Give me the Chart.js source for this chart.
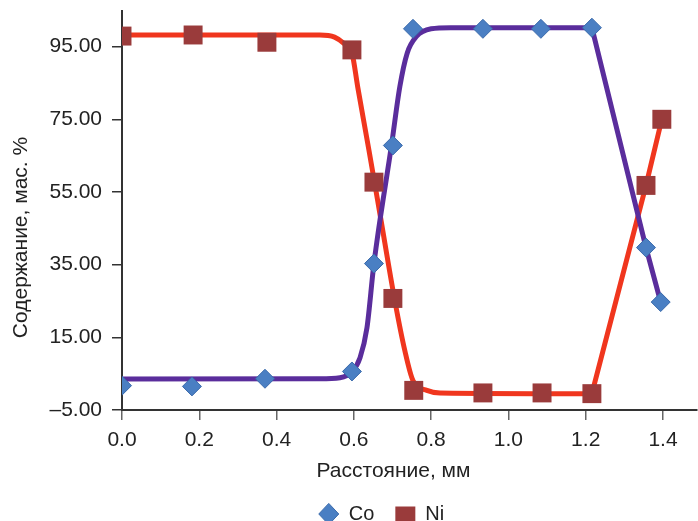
<!DOCTYPE html>
<html><head><meta charset="utf-8">
<script src="https://cdn.jsdelivr.net/npm/chart.js@4/dist/chart.umd.min.js"></script>
<style>html,body{margin:0;padding:0;background:#fff}#wrap{width:698px;height:521px}</style>
</head><body><div id="wrap"><canvas id="c" width="698" height="521"></canvas></div>
<script>
// ---- measured points (markers) ----
const distanceCo = [0.0, 0.181, 0.37, 0.595, 0.652, 0.701, 0.753, 0.934, 1.084, 1.216, 1.356, 1.394];
const valuesCo   = [1.7, 1.5, 3.6, 5.6, 35.3, 67.8, 99.9, 99.9, 99.9, 100.2, 39.7, 24.7];
const distanceNi = [0.0, 0.184, 0.375, 0.595, 0.652, 0.701, 0.755, 0.934, 1.087, 1.216, 1.356, 1.397];
const valuesNi   = [97.9, 98.2, 96.2, 94.1, 57.7, 25.7, 0.4, -0.3, -0.3, -0.5, 56.8, 75.0];

// ---- fitted curves ----
const curveCoX = [0.0, 0.51, 0.564, 0.595, 0.616, 0.634, 0.652, 0.698, 0.719, 0.738, 0.762, 0.80, 0.85, 1.216];
const curveCoY = [3.5, 3.6, 3.9, 5.5, 9.4, 17.7, 35.3, 68.3, 84.0, 93.2, 97.8, 99.9, 100.2, 100.2];
const lineCoX  = [1.216, 1.356, 1.394];
const lineCoY  = [100.2, 39.7, 24.7];
const curveNiX = [0.0, 0.512, 0.55, 0.575, 0.595, 0.610, 0.639, 0.666, 0.706, 0.732, 0.753, 0.789, 0.823, 1.216];
const curveNiY = [98.2, 98.2, 97.6, 95.8, 93.3, 83.9, 66.5, 49.9, 25.1, 11.3, 3.1, 0.4, -0.3, -0.5];
const lineNiX  = [1.216, 1.356, 1.397];
const lineNiY  = [-0.5, 56.8, 75.0];

// ---- axes ----
const xTickValues = [0.0, 0.2, 0.4, 0.6, 0.8, 1.0, 1.2, 1.4];
const xTickLabels = ['0.0', '0.2', '0.4', '0.6', '0.8', '1.0', '1.2', '1.4'];
const yTickValues = [-5, 15, 35, 55, 75, 95];
const yTickLabels = ['–5.00', '15.00', '35.00', '55.00', '75.00', '95.00'];
const xTitle = 'Расстояние, мм';
const yTitle = 'Содержание, мас. %';
const seriesNames = ['Co', 'Ni'];

const pts = (xs, ys) => xs.map((x, i) => ({x: x, y: ys[i]}));
const FONT = '"Liberation Sans", Arial, sans-serif';
const TXT = '#222';
const noPad = (s) => {
  s.paddingLeft = 0; s.paddingRight = 0; s.paddingTop = 0; s.paddingBottom = 0;
};

const tweak = {
  id: 'tweak',
  afterLayout(chart) {
    const lg = chart.legend;
    if (lg) { lg.left += 33; lg.right += 33; lg.top += 13; lg.bottom += 13; }
  },
  afterDraw(chart) {
    const ctx = chart.ctx, a = chart.chartArea;
    ctx.save();
    ctx.font = '21px ' + FONT;
    ctx.fillStyle = TXT;
    ctx.textAlign = 'center';
    ctx.textBaseline = 'alphabetic';
    ctx.fillText(xTitle, (a.left + a.right) / 2 - 16, 477);
    ctx.translate(27, (a.top + a.bottom) / 2 + 27);
    ctx.rotate(-Math.PI / 2);
    ctx.fillText(yTitle, 0, 0);
    ctx.restore();
  }
};

new Chart(document.getElementById('c'), {
  type: 'scatter',
  data: {
    datasets: [
      { label: seriesNames[0], data: pts(distanceCo, valuesCo), order: 0,
        pointStyle: 'rectRot', pointRadius: 9.5, pointHoverRadius: 9.5,
        backgroundColor: '#4a7fc3', borderColor: '#3a6aab', borderWidth: 1, showLine: false },
      { label: seriesNames[1], data: pts(distanceNi, valuesNi), order: 0,
        pointStyle: 'rect', pointRadius: 13.4, pointHoverRadius: 13.4,
        backgroundColor: '#9a3b3b', borderColor: '#9a3b3b', borderWidth: 0, showLine: false },
      { label: 'Co fit', data: pts(curveCoX, curveCoY), order: 1, showLine: true,
        cubicInterpolationMode: 'monotone', borderColor: '#5a2d9c', borderWidth: 5,
        pointRadius: 0, pointHoverRadius: 0, fill: false },
      { label: 'Co fit 2', data: pts(lineCoX, lineCoY), order: 1, showLine: true, tension: 0,
        borderColor: '#5a2d9c', borderWidth: 5, pointRadius: 0, pointHoverRadius: 0, fill: false },
      { label: 'Ni fit', data: pts(curveNiX, curveNiY), order: 2, showLine: true,
        cubicInterpolationMode: 'monotone', borderColor: '#f0361e', borderWidth: 5,
        pointRadius: 0, pointHoverRadius: 0, fill: false },
      { label: 'Ni fit 2', data: pts(lineNiX, lineNiY), order: 2, showLine: true, tension: 0,
        borderColor: '#f0361e', borderWidth: 5, pointRadius: 0, pointHoverRadius: 0, fill: false }
    ]
  },
  options: {
    responsive: false,
    animation: false,
    layout: { autoPadding: false, padding: { top: 11, right: 1, left: 0, bottom: 0 } },
    plugins: {
      tooltip: { enabled: false },
      legend: {
        display: true, position: 'bottom',
        labels: {
          filter: (item) => item.datasetIndex < 2,
          usePointStyle: true, pointStyleWidth: 20, boxHeight: 15,
          padding: 21, color: TXT, font: { family: FONT, size: 20 }
        }
      }
    },
    scales: {
      x: {
        type: 'linear', min: 0, max: 1.488,
        afterBuildTicks: (s) => { s.ticks = xTickValues.map(v => ({value: v})); },
        afterFit: (s) => { s.height = 60; noPad(s); },
        ticks: { padding: 8, color: TXT, font: { family: FONT, size: 21 },
                 maxRotation: 0, autoSkip: false,
                 callback: (v) => { const i = xTickValues.findIndex(t => Math.abs(t - v) < 1e-9); return i >= 0 ? xTickLabels[i] : ''; } },
        grid: { display: true, drawOnChartArea: false, drawTicks: true, tickLength: 10, color: '#666', lineWidth: 1.5 },
        border: { display: true, color: '#333', width: 2 }
      },
      y: {
        type: 'linear', min: -5, max: 104.8,
        afterBuildTicks: (s) => { s.ticks = yTickValues.map(v => ({value: v})); },
        afterFit: (s) => { s.width = 122; noPad(s); },
        ticks: { padding: 10, color: TXT, font: { family: FONT, size: 21 },
                 callback: (v) => { const i = yTickValues.indexOf(v); return i >= 0 ? yTickLabels[i] : ''; } },
        grid: { display: true, drawOnChartArea: false, drawTicks: true, tickLength: 10, color: '#333', lineWidth: 1.5 },
        border: { display: true, color: '#333', width: 2 }
      }
    }
  },
  plugins: [tweak]
});
</script>
</body></html>
